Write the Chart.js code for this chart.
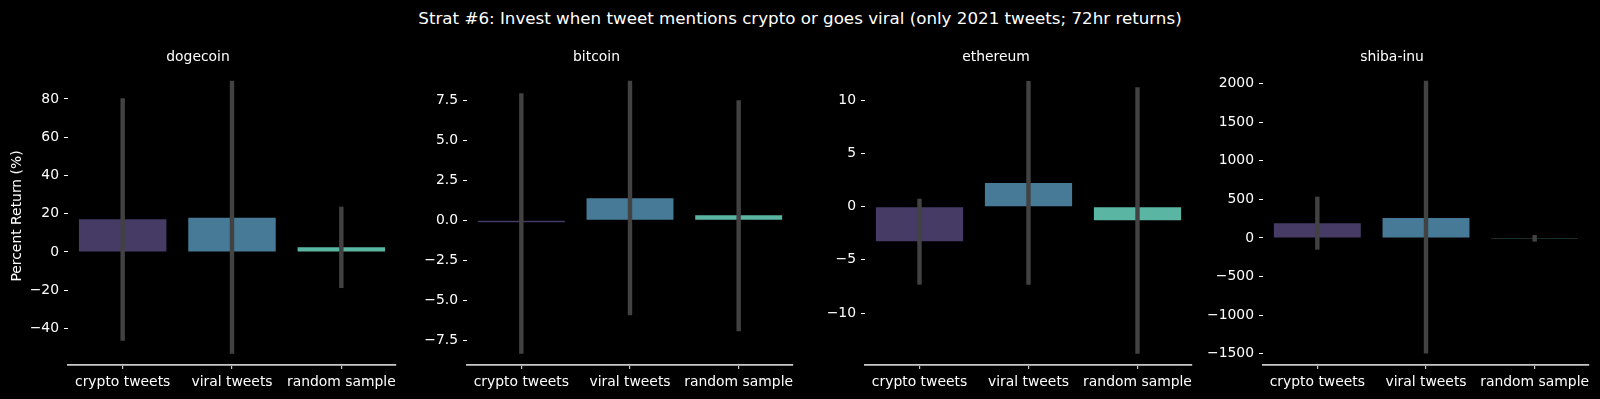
<!DOCTYPE html>
<html>
<head>
<meta charset="utf-8">
<script src="https://cdn.jsdelivr.net/npm/chart.js@4"></script>
<style>
  html, body { margin: 0; padding: 0; background: #000; }
  body { width: 1600px; height: 399px; position: relative; overflow: hidden; font-family: 'DejaVu Sans', sans-serif; }
  #suptitle { position: absolute; left: 0; top: 0; width: 1600px; height: 36px; line-height: 36px; text-align: center; color: #fff; font-size: 16.7px; }
  canvas { position: absolute; }
</style>
</head>
<body>
<div id="suptitle">Strat #6: Invest when tweet mentions crypto or goes viral (only 2021 tweets; 72hr returns)</div>
<canvas id="c0"></canvas>
<canvas id="c1"></canvas>
<canvas id="c2"></canvas>
<canvas id="c3"></canvas>
<script>
// categories and coins
const categories = ['crypto tweets', 'viral tweets', 'random sample'];
const coins = ['dogecoin', 'bitcoin', 'ethereum', 'shiba-inu'];

// mean 72hr return per category (%)
const dogeMean = [17.1, 17.9, 2.4];
const btcMean = [-0.12, 1.38, 0.31];
const ethMean = [-3.26, 2.23, -1.28];
const shibMean = [190, 259, -4];

// confidence interval ends
const dogeLow = [-46.2, -53.0, -18.7];
const dogeHigh = [80.2, 89.4, 23.5];
const btcLow = [-8.33, -5.93, -6.93];
const btcHigh = [7.93, 8.72, 7.49];
const ethLow = [-7.3, -7.3, -13.8];
const ethHigh = [0.72, 11.8, 11.2];
const shibLow = [-147, -1494, -43];
const shibHigh = [531, 2034, 35];

// y ticks
const dogeTicks = [-40, -20, 0, 20, 40, 60, 80];
const btcTicks = [-7.5, -5, -2.5, 0, 2.5, 5, 7.5];
const ethTicks = [-10, -5, 0, 5, 10];
const shibTicks = [-1500, -1000, -500, 0, 500, 1000, 1500, 2000];

const barColors = ['#463b64', '#467a96', '#5bb5a3'];
const FONT = 'DejaVu Sans';
const FS = 13.9;

const panels = [
  { mean: dogeMean, low: dogeLow, high: dogeHigh, ticks: dogeTicks, min: -59.1, max: 96.7, dec: 0, left: 0, yW: 68, width: 404, ylabel: true },
  { mean: btcMean, low: btcLow, high: btcHigh, ticks: btcTicks, min: -9.06, max: 9.6, dec: 1, left: 400, yW: 67, width: 401 },
  { mean: ethMean, low: ethLow, high: ethHigh, ticks: ethTicks, min: -14.89, max: 13.14, dec: 0, left: 800, yW: 65, width: 400 },
  { mean: shibMean, low: shibLow, high: shibHigh, ticks: shibTicks, min: -1646, max: 2216, dec: 0, left: 1195, yW: 68, width: 402 }
];

function fmt(v, dec) {
  const s = Math.abs(v).toFixed(dec);
  return v < 0 ? '\u2212' + s : s;
}

panels.forEach((p, i) => {
  const cv = document.getElementById('c' + i);
  cv.width = p.width;
  cv.height = 369;
  cv.style.left = p.left + 'px';
  cv.style.top = '30px';

  new Chart(cv, {
    type: 'bar',
    data: {
      labels: categories,
      datasets: [
        {
          data: p.low.map((l, k) => [l, p.high[k]]),
          backgroundColor: '#424242',
          borderWidth: 0,
          barThickness: 3.75,
          grouped: false,
          order: 0
        },
        {
          data: p.mean,
          backgroundColor: barColors,
          borderWidth: 0,
          categoryPercentage: 1,
          barPercentage: 0.8,
          grouped: false,
          order: 1
        }
      ]
    },
    options: {
      responsive: false,
      animation: false,
      events: [],
      layout: { padding: { left: 0, right: 8, top: 0, bottom: 0 } },
      plugins: {
        legend: { display: false },
        tooltip: { enabled: false },
        title: {
          display: true,
          text: coins[i],
          color: '#fff',
          font: { family: FONT, size: FS, weight: 'normal' },
          padding: { top: 18.66, bottom: 1.66 }
        }
      },
      scales: {
        x: {
          offset: true,
          afterFit: (s) => { s.height = 34; },
          border: { display: true, color: '#c8c8c8', width: 1.75 },
          grid: { display: true, offset: false, drawOnChartArea: false, drawTicks: true, tickLength: 4, color: '#c8c8c8', lineWidth: 1.2 },
          ticks: { color: '#fff', font: { family: FONT, size: FS }, padding: 5, autoSkip: false, maxRotation: 0, minRotation: 0 }
        },
        y: {
          min: p.min,
          max: p.max,
          afterFit: (s) => { s.width = p.yW; },
          afterBuildTicks: (s) => { s.ticks = p.ticks.map(v => ({ value: v })); },
          border: { display: false },
          grid: { display: true, drawOnChartArea: false, drawTicks: true, tickLength: 4, color: '#fff', lineWidth: 1 },
          ticks: {
            color: '#fff',
            font: { family: FONT, size: FS },
            padding: 5,
            callback: (v) => fmt(v, p.dec)
          },
          title: {
            display: !!p.ylabel,
            text: 'Percent Return (%)',
            color: '#fff',
            font: { family: FONT, size: FS },
            padding: { top: 8.66, bottom: 0 }
          }
        }
      }
    }
  });
});
</script>
</body>
</html>
